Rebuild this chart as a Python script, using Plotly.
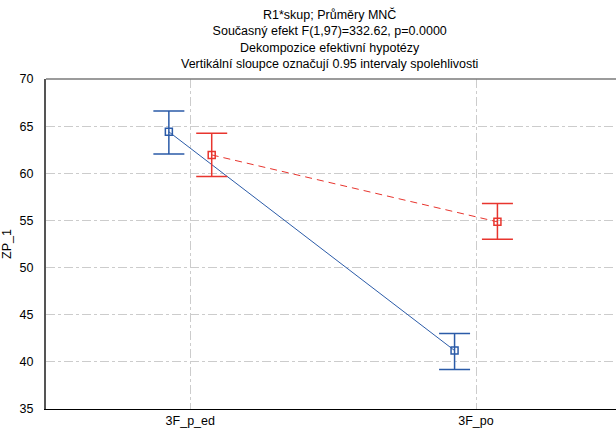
import plotly.graph_objects as go

categories = ["3F_p_ed", "3F_po"]
blue_mean = [64.4, 41.2]
blue_upper = [66.6, 43.0]
blue_lower = [62.05, 39.2]
red_mean = [61.95, 54.85]
red_upper = [64.25, 56.8]
red_lower = [59.65, 53.0]
yticks = [35, 40, 45, 50, 55, 60, 65, 70]

BLUE = "#2b5ba8"
RED = "#e8352e"
FONT = "Liberation Sans"

xpos = list(range(len(categories)))
off = 0.075

fig = go.Figure()

def add_series(means, up, lo, color, shift, dash):
    xs = [x + shift for x in xpos]
    fig.add_trace(go.Scatter(
        x=xs, y=means, mode="lines+markers",
        line=dict(color=color, width=1, dash=dash),
        marker=dict(symbol="square-open", size=7, color=color, line=dict(width=1.5, color=color)),
        error_y=dict(type="data", symmetric=False,
                     array=[u - m for u, m in zip(up, means)],
                     arrayminus=[m - l for m, l in zip(means, lo)],
                     color=color, thickness=1.5, width=15.5),
        showlegend=False, hoverinfo="skip",
    ))

add_series(blue_mean, blue_upper, blue_lower, BLUE, -off, "solid")
add_series(red_mean, red_upper, red_lower, RED, off, "7px,5px")

title_text = ("R1*skup; Průměry MNČ<br>Současný efekt F(1,97)=332.62, p=0.0000<br>"
              "Dekompozice efektivní hypotézy<br>Vertikální sloupce označují 0.95 intervaly spolehlivosti")

plot_h = 435 - 79 - 26

fig.update_layout(
    width=616, height=435,
    margin=dict(l=46, r=0, t=79, b=26),
    paper_bgcolor="white", plot_bgcolor="white",
    font=dict(family=FONT, size=12.5, color="black"),
    annotations=[dict(text=title_text, xref="paper", yref="paper", x=0.4965, xanchor="center",
                      y=1 + (79 - 5) / plot_h, yanchor="top", showarrow=False, align="center",
                      font=dict(family=FONT, size=12.5, color="black"))],
    xaxis=dict(
        range=[-0.505, 1.49], tickmode="array", tickvals=xpos, ticktext=categories,
        showline=True, linecolor="black", linewidth=1,
        showgrid=True, gridcolor="#cccccc", griddash="dashdot", gridwidth=1,
        zeroline=False, ticks="", ticklen=0,
    ),
    yaxis=dict(
        range=[35, 70], tickmode="array", tickvals=yticks,
        showline=True, linecolor="#555555", linewidth=2,
        showgrid=True, gridcolor="#cccccc", griddash="dashdot", gridwidth=1,
        zeroline=False, ticks="", ticklabelstandoff=8,
        title=dict(text="ZP_1", standoff=6, font=dict(family=FONT, size=12.5)),
    ),
    shapes=[dict(type="line", xref="paper", yref="paper", x0=0, x1=1, y0=1, y1=1,
                 line=dict(color="#7a7a7a", width=1.5))],
)

fig.write_html("out.html")
